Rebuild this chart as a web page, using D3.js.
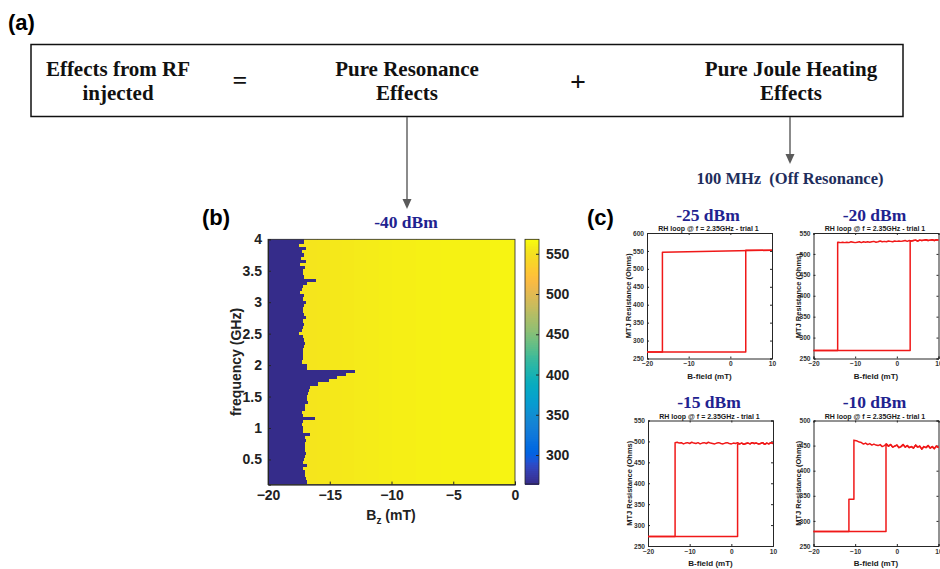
<!DOCTYPE html>
<html>
<head>
<meta charset="utf-8">
<script src="https://cdn.jsdelivr.net/npm/d3@7"></script>
<style>
  body { margin: 0; background: #fff; }
  svg { display: block; }
  .sans { font-family: "Liberation Sans", Arial, Helvetica, sans-serif; font-weight: bold; }
  .serif { font-family: "Liberation Serif", "Times New Roman", serif; font-weight: bold; }
</style>
</head>
<body>
<svg id="fig" width="940" height="569"></svg>
<script>
// ---------------- data ----------------
// (b) heatmap: frequency rows (GHz, top to bottom) and the field (mT) at which
// the junction leaves the low-resistance state in each row
const freqRows = d3.range(79).map(i => +(4 - 0.05 * i).toFixed(2));
const switchField = [
  -17.06, -17.06, -17.46, -16.95, -17.28, -17.06, -17.33, -16.95, -17.41, -17.00,
  -17.14, -17.14, -17.06, -16.11, -16.87, -17.14, -17.28, -17.41, -17.06, -17.19,
  -16.93, -17.06, -17.14, -17.19, -17.08, -16.95, -17.14, -17.06, -17.19, -17.28,
  -17.46, -17.19, -17.06, -17.00, -17.08, -17.14, -17.14, -17.19, -17.14, -17.25,
  -16.87, -16.87, -12.95, -13.65, -14.45, -15.10, -15.95, -16.60, -16.70, -16.74,
  -16.87, -16.87, -16.74, -17.00, -17.00, -17.28, -17.19, -16.20, -17.14, -17.28,
  -17.14, -17.14, -16.60, -17.00, -16.95, -17.00, -17.00, -17.00, -16.95, -17.00,
  -17.06, -17.14, -16.87, -17.14, -17.00, -17.00, -16.95, -16.87, -16.87
];
const lowStateOhm = 265;
// high-state resistance in 1 mT field bands starting at -20 mT
const bandStart = d3.range(-20, 0, 1);
const highStateOhm = [553, 553, 553, 554, 555, 556, 557, 558, 559, 560,
                      561, 561, 562, 562, 563, 563, 563, 563, 564, 564];
const colorTicks = [300, 350, 400, 450, 500, 550];
const freqTicks = [0.5, 1, 1.5, 2, 2.5, 3, 3.5, 4];
const bzTicks = [-20, -15, -10, -5, 0];

// (c) RH loops at 2.35 GHz
const loopTitles = ["-25 dBm", "-20 dBm", "-15 dBm", "-10 dBm"];
const rLow = [268, 269, 272.5, 279];
const fieldUp = [3.7, 3.2, 1.5, -2.6];
const fieldDown = [-16.3, -14.2, -13.5, -10.3];
const rMax = [600, 550, 550, 500];
const high25 = [552, 546];
const high20 = [
  533, 534, 532, 534, 533, 532, 534, 533,
  532, 533, 531, 533, 532, 531, 532, 530,
  532, 531, 530, 531, 530, 531, 529, 530,
  531, 529, 530, 529, 531, 529, 528, 530,
  529, 528, 529, 528, 529, 527, 529, 528,
  527, 528, 529, 527, 528, 527, 528, 527,
  528, 528
];
const high15 = [
  495, 497, 494, 496, 493, 497, 495, 494,
  496, 495, 497, 494, 496, 495, 493, 496,
  494, 497, 495, 496, 494, 495, 497, 496,
  494, 495, 497, 496, 494, 495, 496, 498,
  495, 497, 496, 494, 497, 495, 496, 498,
  495, 497, 496, 494, 497, 496, 498, 497
];
const high10 = [
  446, 449, 444, 448, 445, 450, 446, 448,
  443, 449, 447, 451, 445, 448, 446, 450,
  447, 452, 448, 446, 451, 449, 447, 452,
  449, 453, 450, 448, 452, 450, 451, 453,
  451, 454, 452, 455, 453, 456, 457, 459,
  460, 461
];
// field sweep points of the high branches (from +10 mT downwards)
const highFields = [
  [10, fieldDown[0]],
  d3.range(10, fieldDown[1], -0.5).concat([fieldDown[1]]),
  d3.range(10, fieldDown[2], -0.5).concat([fieldDown[2]]),
  d3.range(10, fieldDown[3], -0.5).concat([fieldDown[3]])
];
const highValues = [high25, high20, high15, high10];
// after the down-switch
const dropField = [[-16.3, -20], [-14.2, -20], [-13.5, -20], [-10.3, -11.5, -11.5, -20]];
const dropOhm = [[268, 268], [269, 269], [272.5, 272.5], [343, 343, 279, 279]];

// MATLAB parula colormap
const parula = [
[0.2081,0.1663,0.5292],[0.2116,0.1898,0.5777],[0.2123,0.2138,0.6270],[0.2081,0.2386,0.6771],
[0.1959,0.2645,0.7279],[0.1707,0.2919,0.7792],[0.1253,0.3242,0.8303],[0.0591,0.3598,0.8683],
[0.0117,0.3875,0.8820],[0.0060,0.4086,0.8828],[0.0165,0.4266,0.8786],[0.0329,0.4430,0.8720],
[0.0498,0.4586,0.8641],[0.0629,0.4737,0.8554],[0.0723,0.4887,0.8467],[0.0779,0.5040,0.8384],
[0.0793,0.5200,0.8312],[0.0749,0.5375,0.8263],[0.0641,0.5570,0.8240],[0.0488,0.5772,0.8228],
[0.0343,0.5966,0.8199],[0.0265,0.6137,0.8135],[0.0239,0.6287,0.8038],[0.0231,0.6418,0.7913],
[0.0228,0.6535,0.7768],[0.0267,0.6642,0.7607],[0.0384,0.6743,0.7436],[0.0590,0.6838,0.7254],
[0.0843,0.6928,0.7062],[0.1133,0.7015,0.6859],[0.1453,0.7098,0.6646],[0.1801,0.7177,0.6424],
[0.2178,0.7250,0.6193],[0.2586,0.7317,0.5954],[0.3022,0.7376,0.5712],[0.3482,0.7424,0.5473],
[0.3953,0.7459,0.5244],[0.4420,0.7481,0.5033],[0.4871,0.7491,0.4840],[0.5300,0.7491,0.4661],
[0.5709,0.7485,0.4494],[0.6099,0.7473,0.4337],[0.6473,0.7456,0.4188],[0.6834,0.7435,0.4044],
[0.7184,0.7411,0.3905],[0.7525,0.7384,0.3768],[0.7858,0.7356,0.3633],[0.8185,0.7327,0.3498],
[0.8507,0.7299,0.3360],[0.8824,0.7274,0.3217],[0.9139,0.7258,0.3063],[0.9450,0.7261,0.2886],
[0.9739,0.7314,0.2666],[0.9938,0.7455,0.2403],[0.9990,0.7653,0.2164],[0.9955,0.7861,0.1967],
[0.9880,0.8066,0.1794],[0.9789,0.8271,0.1633],[0.9697,0.8481,0.1475],[0.9626,0.8705,0.1309],
[0.9589,0.8949,0.1132],[0.9598,0.9218,0.0948],[0.9661,0.9514,0.0755],[0.9763,0.9831,0.0538]
];
const parulaInterp = d3.piecewise(d3.interpolateRgb,
  parula.map(c => d3.rgb(c[0] * 255, c[1] * 255, c[2] * 255)));
const color = d3.scaleSequential(parulaInterp).domain([264, 568]).clamp(true);

// ---------------- drawing ----------------
const svg = d3.select("#fig");
svg.append("rect").attr("width", 940).attr("height", 569).attr("fill", "#fff");

// ===== (a) equation box =====
svg.append("text").attr("class", "sans").attr("x", 8).attr("y", 30)
  .attr("font-size", 22).text("(a)");
svg.append("rect").attr("x", 31).attr("y", 44.5).attr("width", 872).attr("height", 72)
  .attr("fill", "none").attr("stroke", "#111").attr("stroke-width", 1.5);

const boxText = [
  { x: 118, lines: ["Effects from RF", "injected"] },
  { x: 407, lines: ["Pure Resonance", "Effects"] },
  { x: 791, lines: ["Pure Joule Heating", "Effects"] }
];
boxText.forEach(b => {
  b.lines.forEach((l, i) => {
    svg.append("text").attr("class", "serif").attr("x", b.x).attr("y", 76 + i * 24)
      .attr("text-anchor", "middle").attr("font-size", 21).attr("fill", "#111").text(l);
  });
});
svg.append("text").attr("class", "serif").attr("x", 240).attr("y", 89)
  .attr("text-anchor", "middle").attr("font-size", 26).attr("fill", "#111").text("=");
svg.append("text").attr("class", "serif").attr("x", 578).attr("y", 91)
  .attr("text-anchor", "middle").attr("font-size", 28).attr("fill", "#111").attr("font-weight", "normal").text("+");

function arrow(x, y0, y1) {
  svg.append("line").attr("x1", x).attr("x2", x).attr("y1", y0).attr("y2", y1 - 9)
    .attr("stroke", "#5a5a5a").attr("stroke-width", 1.4);
  svg.append("path")
    .attr("d", `M${x - 4.5},${y1 - 10} L${x + 4.5},${y1 - 10} L${x},${y1} Z`)
    .attr("fill", "#5a5a5a");
}
arrow(407, 117, 209);
arrow(790, 117, 164);

svg.append("text").attr("class", "serif").attr("x", 790).attr("y", 184)
  .attr("text-anchor", "middle").attr("font-size", 16.5).attr("fill", "#1e2d5c")
  .style("white-space", "pre").text("100 MHz  (Off Resonance)");

// ===== (b) heatmap =====
svg.append("text").attr("class", "sans").attr("x", 202).attr("y", 225)
  .attr("font-size", 22).text("(b)");
svg.append("text").attr("class", "serif").attr("x", 406).attr("y", 228)
  .attr("text-anchor", "middle").attr("font-size", 17.5).attr("fill", "#1f2390").text("-40 dBm");

const hx = d3.scaleLinear().domain([-20, 0]).range([268, 515]);
const hy = d3.scaleLinear().domain([0.1, 4]).range([484.6, 239.3]);

svg.append("clipPath").attr("id", "hclip").append("rect")
  .attr("x", hx(-20)).attr("y", hy(4)).attr("width", hx(0) - hx(-20)).attr("height", hy(0.1) - hy(4));

const cells = svg.append("g").attr("clip-path", "url(#hclip)").attr("shape-rendering", "crispEdges");
freqRows.forEach((f, i) => {
  const sw = switchField[i];
  const yTop = hy(f + 0.025), yBot = hy(f - 0.025);
  cells.append("rect").attr("x", hx(-20)).attr("y", yTop)
    .attr("width", hx(sw) - hx(-20)).attr("height", yBot - yTop)
    .attr("fill", color(lowStateOhm));
  bandStart.forEach((b, j) => {
    if (b + 1 <= sw) return;
    const x0 = Math.max(b, sw);
    cells.append("rect").attr("x", hx(x0)).attr("y", yTop)
      .attr("width", hx(b + 1) - hx(x0) + 0.3).attr("height", yBot - yTop)
      .attr("fill", color(highStateOhm[j]));
  });
});

const axisColor = "#262626";
const hxAxis = svg.append("g").attr("transform", `translate(0,${hy(0.1)})`)
  .call(d3.axisBottom(hx).tickValues(bzTicks).tickSize(-3).tickPadding(8).tickFormat(d3.format("d")));
const hyAxis = svg.append("g").attr("transform", `translate(${hx(-20)},0)`)
  .call(d3.axisLeft(hy).tickValues(freqTicks).tickSize(-3).tickPadding(6).tickFormat(d => d));
[hxAxis, hyAxis].forEach(a => {
  a.select(".domain").attr("stroke", axisColor);
  a.selectAll(".tick line").attr("stroke", axisColor);
  a.selectAll(".tick text").attr("class", "sans").attr("font-size", 14).attr("fill", "#222");
});
hxAxis.selectAll(".tick text").attr("dy", "0.55em");
svg.append("rect").attr("x", hx(-20)).attr("y", hy(4)).attr("width", hx(0) - hx(-20))
  .attr("height", hy(0.1) - hy(4)).attr("fill", "none").attr("stroke", axisColor).attr("stroke-width", 0.8);

svg.append("text").attr("class", "sans").attr("transform", `translate(241,362) rotate(-90)`)
  .attr("text-anchor", "middle").attr("font-size", 14).attr("fill", "#222").text("frequency (GHz)");
const bz = svg.append("text").attr("class", "sans").attr("x", 391).attr("y", 520)
  .attr("text-anchor", "middle").attr("font-size", 14).attr("fill", "#222");
bz.append("tspan").text("B");
bz.append("tspan").attr("font-size", 10).attr("dy", 4).text("z");
bz.append("tspan").attr("dy", -4).text(" (mT)");

// colorbar
const cb = { x: 525, w: 14 };
const cy = d3.scaleLinear().domain([264, 568]).range([484, 239.3]);
const nSteps = 128;
const cbG = svg.append("g").attr("shape-rendering", "crispEdges");
d3.range(nSteps).forEach(k => {
  const v0 = 264 + (568 - 264) * k / nSteps, v1 = 264 + (568 - 264) * (k + 1) / nSteps;
  cbG.append("rect").attr("x", cb.x).attr("y", cy(v1)).attr("width", cb.w)
    .attr("height", cy(v0) - cy(v1) + 0.5).attr("fill", color((v0 + v1) / 2));
});
svg.append("rect").attr("x", cb.x).attr("y", cy(568)).attr("width", cb.w).attr("height", cy(264) - cy(568))
  .attr("fill", "none").attr("stroke", axisColor).attr("stroke-width", 0.8);
const cbAxis = svg.append("g").attr("transform", `translate(${cb.x + cb.w},0)`)
  .call(d3.axisRight(cy).tickValues(colorTicks).tickSize(-3).tickPadding(7));
cbAxis.select(".domain").remove();
cbAxis.selectAll(".tick line").attr("stroke", axisColor);
cbAxis.selectAll(".tick text").attr("class", "sans").attr("font-size", 14).attr("fill", "#222");

// ===== (c) RH loops =====
svg.append("text").attr("class", "sans").attr("x", 587).attr("y", 225)
  .attr("font-size", 22).text("(c)");

const panels = [
  { x0: 647, y0: 233, yLab: 628.5 },
  { x0: 813.5, y0: 233, yLab: 798 },
  { x0: 648, y0: 420.5, yLab: 629.5 },
  { x0: 813.5, y0: 420.5, yLab: 798 }
];
const pw = 125, ph = 125.5;

panels.forEach((p, k) => {
  const g = svg.append("g");
  const x = d3.scaleLinear().domain([-20, 10]).range([p.x0, p.x0 + pw]);
  const y = d3.scaleLinear().domain([250, rMax[k]]).range([p.y0 + ph, p.y0]);

  // big power title and small plot title
  svg.append("text").attr("class", "serif").attr("x", p.x0 + 61).attr("y", p.y0 - 12.5)
    .attr("text-anchor", "middle").attr("font-size", 17.5).attr("fill", "#1f2390").text(loopTitles[k]);
  g.append("text").attr("class", "sans").attr("x", p.x0 + pw / 2 - 1).attr("y", p.y0 - 2)
    .attr("text-anchor", "middle").attr("font-size", 7).attr("fill", "#1a1a1a")
    .text("RH loop @ f = 2.35GHz - trial 1");

  // axes
  const yTicks = d3.range(250, rMax[k] + 1, 50);
  const xAx = g.append("g").attr("transform", `translate(0,${p.y0 + ph})`)
    .call(d3.axisBottom(x).tickValues([-20, -10, 0, 10]).tickSize(-2).tickPadding(3));
  const xTop = g.append("g").attr("transform", `translate(0,${p.y0})`)
    .call(d3.axisTop(x).tickValues([-20, -10, 0, 10]).tickSize(-2).tickFormat(""));
  const yAx = g.append("g").attr("transform", `translate(${p.x0},0)`)
    .call(d3.axisLeft(y).tickValues(yTicks).tickSize(-2).tickPadding(3));
  const yRight = g.append("g").attr("transform", `translate(${p.x0 + pw},0)`)
    .call(d3.axisRight(y).tickValues(yTicks).tickSize(-2).tickFormat(""));
  [xAx, xTop, yAx, yRight].forEach(a => {
    a.select(".domain").attr("stroke", axisColor).attr("stroke-width", 1);
    a.selectAll(".tick line").attr("stroke", axisColor);
    a.selectAll(".tick text").attr("class", "sans").attr("font-size", 6.6).attr("fill", "#333");
  });

  g.append("text").attr("class", "sans").attr("x", p.x0 + pw / 2).attr("y", p.y0 + ph + 20)
    .attr("text-anchor", "middle").attr("font-size", 8).attr("fill", "#1a1a1a").text("B-field (mT)");
  g.append("text").attr("class", "sans")
    .attr("transform", `translate(${p.yLab},${p.y0 + ph / 2}) rotate(-90)`)
    .attr("dy", "0.35em").attr("text-anchor", "middle").attr("font-size", 7.5)
    .attr("fill", "#1a1a1a").text("MTJ Resistance (Ohms)");

  // loop traces
  const hf = highFields[k], hv = highValues[k];
  const highPts = hf.map((f, i) => [f, hv[i]]);
  const aboveUp = highPts.filter(d => d[0] > fieldUp[k]);
  const jumpTop = aboveUp[aboveUp.length - 1][1];
  const upSweep = [[-20, rLow[k]], [fieldUp[k], rLow[k]], [fieldUp[k], jumpTop]]
    .concat(aboveUp.slice().reverse());
  const downSweep = highPts.concat(dropField[k].map((f, i) => [f, dropOhm[k][i]]));
  const line = d3.line().x(d => x(d[0])).y(d => y(d[1]));
  [upSweep, downSweep].forEach(pts => {
    g.append("path").attr("d", line(pts)).attr("fill", "none")
      .attr("stroke", "#f01818").attr("stroke-width", 1.5).attr("stroke-linejoin", "round");
  });
});
</script>
</body>
</html>
